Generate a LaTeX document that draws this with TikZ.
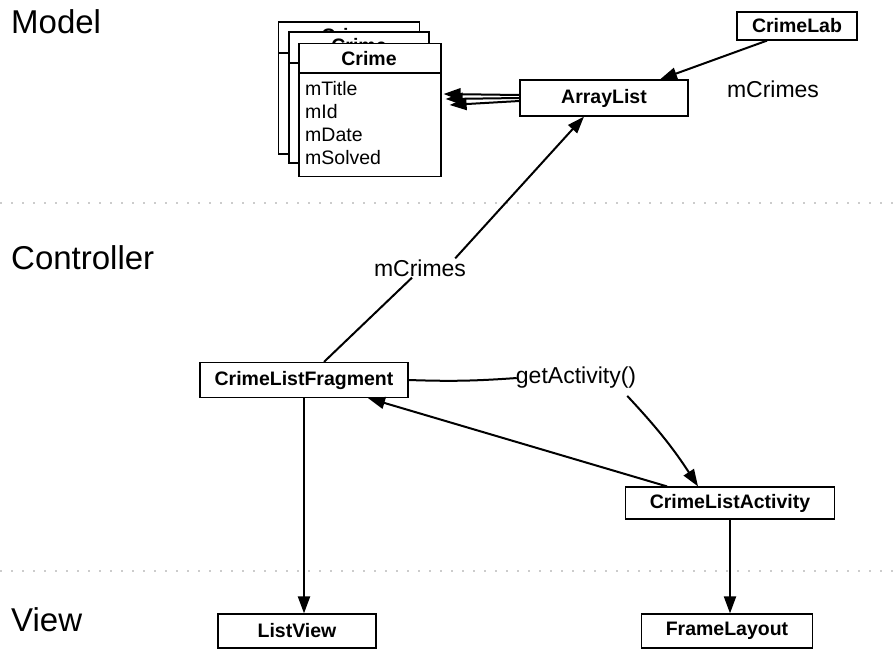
\documentclass[tikz,border=0pt]{standalone}
\usepackage{fontspec}
\setmainfont{Liberation Sans}
\usetikzlibrary{arrows.meta}
\begin{document}
\begin{tikzpicture}[x=1pt,y=-1pt,
  cls/.style={draw, fill=white, line width=1.2pt, inner sep=0pt,
    font=\bfseries\fontsize{19.5}{22}\selectfont},
  hdr/.style={font=\bfseries\fontsize{19.5}{22}\selectfont, inner sep=0pt},
  layer/.style={anchor=west, font=\fontsize{33}{38}\selectfont, inner sep=0pt},
  lbl/.style={font=\fontsize{23}{27}\selectfont, inner sep=1pt},
  attr/.style={anchor=west, font=\fontsize{19.5}{22}\selectfont, inner sep=0pt},
  conn/.style={line width=2pt, -{Triangle[length=17pt,width=12pt]}},
  plain/.style={line width=2pt},
  sep/.style={gray!40, line width=1.8pt, dash pattern=on 2pt off 9pt}
]
\useasboundingbox (0,0) rectangle (894,649);

% layer separators
\draw[sep] (0,203) -- (894,203);
\draw[sep] (0,571) -- (894,571);

% layer titles
\node[layer] (model) at (11,22) {Model};
\node[layer] (controller) at (11,258) {Controller};
\node[layer] (view) at (11,620) {View};

% Crime stack
\node[cls, minimum width=141pt, minimum height=132pt] (crime3) at (349,88) {};
\draw[line width=1.2pt] (278,53) -- (420,53);
\node[hdr] (crimehdr3) at (349,36) {Crime};
\node[cls, minimum width=140pt, minimum height=131pt] (crime2) at (359,97.5) {};
\draw[line width=1.2pt] (289,63) -- (429,63);
\node[hdr] (crimehdr2) at (359,46) {Crime};
\node[cls, minimum width=142pt, minimum height=133pt] (crime) at (370,110) {};
\draw[line width=1.2pt] (299,73) -- (441,73);
\node[hdr] (crimehdr) at (369,59) {Crime};
\node[attr] (a1) at (305,89) {mTitle};
\node[attr] (a2) at (305,112) {mId};
\node[attr] (a3) at (305,135) {mDate};
\node[attr] (a4) at (305,158) {mSolved};

% model boxes
\node[cls, minimum width=120pt, minimum height=28pt] (crimelab) at (797,26) {CrimeLab};
\node[cls, minimum width=168pt, minimum height=36pt] (arraylist) at (604,98) {ArrayList};
\node[lbl] (mcr1) at (773,89) {mCrimes};

% controller boxes
\node[cls, minimum width=208pt, minimum height=35pt] (frag) at (304,380) {CrimeListFragment};
\node[cls, minimum width=209pt, minimum height=32pt] (act) at (730,503) {CrimeListActivity};

% view boxes
\node[cls, minimum width=158pt, minimum height=34pt] (listview) at (297,631) {ListView};
\node[cls, minimum width=171pt, minimum height=34pt] (frame) at (727,631) {FrameLayout};

% connectors
\draw[conn] ([xshift=-30pt]crimelab.south) -- ([xshift=56pt]arraylist.north);
\draw[conn] ([yshift=3pt]arraylist.west) -- ([xshift=2pt,yshift=16pt]crime.east);
\draw[conn] (arraylist.west) -- ([xshift=4pt,yshift=11pt]crime.east);
\draw[conn] ([yshift=-3pt]arraylist.west) -- ([xshift=8pt,yshift=5pt]crime.east);

\node[lbl, fill=white] (mcr2) at (420,268) {mCrimes};
\draw[plain] ([xshift=20pt]frag.north) -- ([xshift=-8pt]mcr2.south);
\draw[conn] ([xshift=-12pt]mcr2.north east) -- ([xshift=-20pt]arraylist.south);

\node[lbl] (ga) at (576,378) {getActivity()};
\draw[plain] (frag.east) to[bend right=3] ([xshift=2pt]ga.west);
\draw[conn] ([xshift=-10pt,yshift=-6pt]ga.south east) to[bend left=5] ([xshift=-32pt]act.north);

\draw[conn] ([xshift=-63pt]act.north) -- ([xshift=64pt]frag.south);
\draw[conn] (frag.south) -- ([xshift=7pt]listview.north);
\draw[conn] (act.south) -- ([xshift=3pt]frame.north);
\end{tikzpicture}
\end{document}
